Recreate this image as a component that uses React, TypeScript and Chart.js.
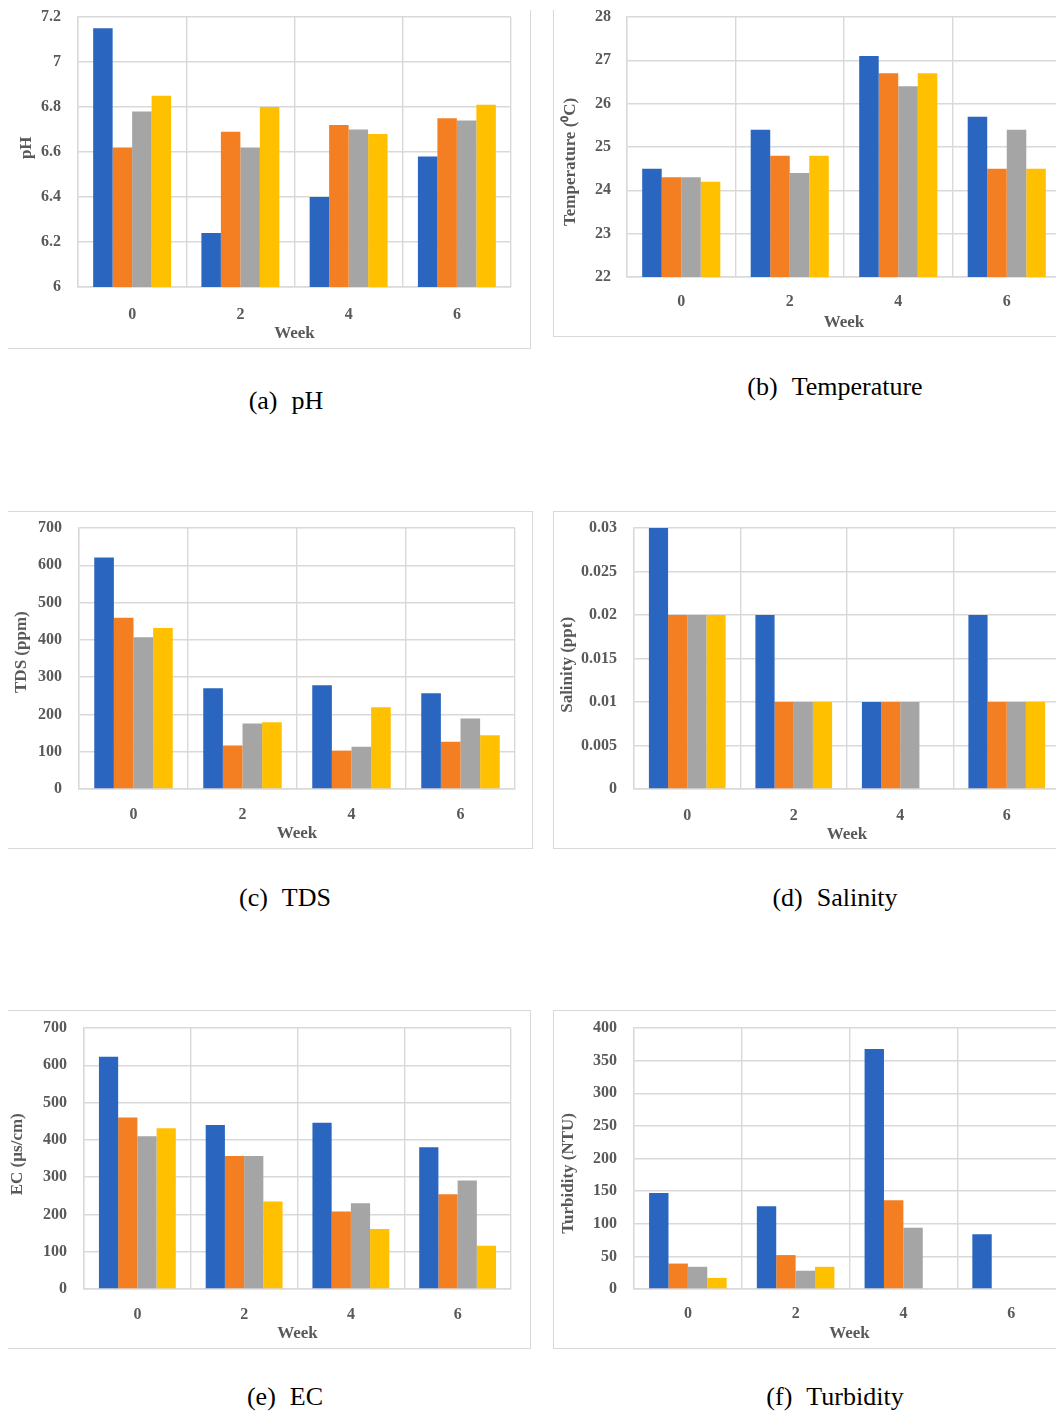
import React, { useEffect, useRef } from 'react';
import { Chart, registerables } from 'chart.js';

Chart.register(...registerables);

// ---------- data ----------
const weeks = ['0', '2', '4', '6'];
const seriesColors = ['#2A66BF', '#F47F22', '#A5A5A5', '#FFC000'];

const phBlue = [7.15, 6.24, 6.4, 6.58];
const phOrange = [6.62, 6.69, 6.72, 6.75];
const phGray = [6.78, 6.62, 6.7, 6.74];
const phYellow = [6.85, 6.8, 6.68, 6.81];
const phTicks = [6, 6.2, 6.4, 6.6, 6.8, 7, 7.2];
const phTickLabels = ['6', '6.2', '6.4', '6.6', '6.8', '7', '7.2'];

const tempBlue = [24.5, 25.4, 27.1, 25.7];
const tempOrange = [24.3, 24.8, 26.7, 24.5];
const tempGray = [24.3, 24.4, 26.4, 25.4];
const tempYellow = [24.2, 24.8, 26.7, 24.5];
const tempTicks = [22, 23, 24, 25, 26, 27, 28];
const tempTickLabels = ['22', '23', '24', '25', '26', '27', '28'];

const tdsBlue = [621, 270, 278, 257];
const tdsOrange = [459, 117, 103, 127];
const tdsGray = [407, 176, 113, 189];
const tdsYellow = [432, 179, 219, 144];
const tdsTicks = [0, 100, 200, 300, 400, 500, 600, 700];
const tdsTickLabels = ['0', '100', '200', '300', '400', '500', '600', '700'];

const salBlue = [0.03, 0.02, 0.01, 0.02];
const salOrange = [0.02, 0.01, 0.01, 0.01];
const salGray = [0.02, 0.01, 0.01, 0.01];
const salYellow = [0.02, 0.01, null, 0.01];
const salTicks = [0, 0.005, 0.01, 0.015, 0.02, 0.025, 0.03];
const salTickLabels = ['0', '0.005', '0.01', '0.015', '0.02', '0.025', '0.03'];

const ecBlue = [623, 440, 446, 380];
const ecOrange = [460, 357, 208, 254];
const ecGray = [410, 357, 230, 291];
const ecYellow = [431, 235, 161, 116];
const ecTicks = [0, 100, 200, 300, 400, 500, 600, 700];
const ecTickLabels = ['0', '100', '200', '300', '400', '500', '600', '700'];

const turbBlue = [147, 127, 368, 84];
const turbOrange = [39, 52, 136, null];
const turbGray = [34, 28, 94, null];
const turbYellow = [17, 34, null, null];
const turbTicks = [0, 50, 100, 150, 200, 250, 300, 350, 400];
const turbTickLabels = ['0', '50', '100', '150', '200', '250', '300', '350', '400'];

// ---------- layout ----------
type Box = { left: number; top: number; right: number; bottom: number };
type Cfg = {
  series: (number | null)[][];
  ticks: number[];
  tickLabels: string[];
  yTitle: string;
  yTitleShift: number; // + moves title down, - moves it up (in spaces)
  plot: Box;
  tickRight: number;
  yTitleX: number;
  xLabelY: number;
  weekY: number;
};

const FONT = 'Liberation Serif';
const TEXT = '#595959';
const GRID = '#D9D9D9';
const TICK_SIZE = 16;
const TITLE_SIZE = 17;
const TEXT_SHIFT = 1.5;

function shiftedTitle(t: string, n: number) {
  if (n > 0) return t + ' '.repeat(n);
  if (n < 0) return ' '.repeat(-n) + t;
  return t;
}

function BarChart({ cfg }: { cfg: Cfg }) {
  const ref = useRef<HTMLCanvasElement | null>(null);
  const titleHalf = (TITLE_SIZE * 1.2) / 2;
  const tickHalf = (TICK_SIZE * 1.2) / 2;
  const padTop = 14;
  const padRight = 10;
  const canvasLeft = Math.round(cfg.yTitleX - titleHalf);
  const canvasTop = cfg.plot.top - padTop;
  const canvasBottom = Math.round(cfg.weekY + TEXT_SHIFT + titleHalf);
  const width = cfg.plot.right + padRight - canvasLeft;
  const height = canvasBottom - canvasTop;
  const yAxisWidth = cfg.plot.left - canvasLeft;
  const xAxisHeight = canvasBottom - cfg.plot.bottom;
  const yTickGap = cfg.plot.left - cfg.tickRight;
  const xTickPad = cfg.xLabelY + TEXT_SHIFT - cfg.plot.bottom - tickHalf;

  useEffect(() => {
    if (!ref.current) return;
    const chart = new Chart(ref.current, {
      type: 'bar',
      data: {
        labels: weeks,
        datasets: cfg.series.map((s, i) => ({
          data: s,
          backgroundColor: seriesColors[i],
          borderWidth: 0,
          barPercentage: 1,
          categoryPercentage: 0.72,
        })),
      },
      options: {
        animation: false,
        responsive: false,
        devicePixelRatio: 1,
        layout: { autoPadding: false, padding: { left: 0, top: padTop, right: padRight, bottom: 0 } },
        plugins: { legend: { display: false }, tooltip: { enabled: false } },
        scales: {
          x: {
            grid: { color: GRID, lineWidth: 1.4, drawTicks: false, offset: true },
            border: { color: GRID, width: 1.4 },
            ticks: {
              padding: xTickPad,
              color: TEXT,
              font: { family: FONT, size: TICK_SIZE, weight: 'bold', lineHeight: 1.2 },
              maxRotation: 0,
            },
            title: {
              display: true,
              text: 'Week',
              color: TEXT,
              padding: 0,
              font: { family: FONT, size: TITLE_SIZE, weight: 'bold', lineHeight: 1.2 },
            },
            afterFit: (s: any) => {
              s.height = xAxisHeight;
            },
          },
          y: {
            min: cfg.ticks[0],
            max: cfg.ticks[cfg.ticks.length - 1],
            grid: {
              color: GRID,
              lineWidth: 1.4,
              drawTicks: true,
              tickLength: yTickGap,
              tickColor: 'rgba(0,0,0,0)',
            },
            border: { color: GRID, width: 1.4 },
            afterBuildTicks: (s: any) => {
              s.ticks = cfg.ticks.map((v) => ({ value: v }));
            },
            ticks: {
              autoSkip: false,
              padding: 0,
              color: TEXT,
              font: { family: FONT, size: TICK_SIZE, weight: 'bold', lineHeight: 1.2 },
              callback: (_v: any, i: number) => cfg.tickLabels[i],
            },
            title: {
              display: true,
              text: shiftedTitle(cfg.yTitle, cfg.yTitleShift),
              color: TEXT,
              padding: 0,
              font: { family: FONT, size: TITLE_SIZE, weight: 'bold', lineHeight: 1.2 },
            },
            afterFit: (s: any) => {
              s.width = yAxisWidth;
            },
          },
        },
      },
    } as any);
    return () => chart.destroy();
  }, []);

  return (
    <canvas
      ref={ref}
      width={width}
      height={height}
      style={{ position: 'absolute', left: canvasLeft, top: canvasTop, width, height }}
    />
  );
}

type FrameSides = { t?: boolean; r?: boolean; b?: boolean; l?: boolean };
function Frame({ box, sides }: { box: Box; sides: FrameSides }) {
  const line = `1.5px solid ${GRID}`;
  return (
    <div
      style={{
        position: 'absolute',
        left: box.left,
        top: box.top,
        width: box.right - box.left,
        height: box.bottom - box.top,
        boxSizing: 'border-box',
        borderTop: sides.t ? line : 'none',
        borderRight: sides.r ? line : 'none',
        borderBottom: sides.b ? line : 'none',
        borderLeft: sides.l ? line : 'none',
      }}
    />
  );
}

function Caption({ x, y, tag, name }: { x: number; y: number; tag: string; name: string }) {
  return (
    <div
      style={{
        position: 'absolute',
        left: x - 200,
        width: 400,
        top: y - 16,
        height: 32,
        lineHeight: '32px',
        textAlign: 'center',
        fontFamily: "'Liberation Serif', 'Times New Roman', serif",
        fontSize: 26,
        color: '#000',
        whiteSpace: 'nowrap',
      }}
    >
      <span>{tag}</span>
      <span style={{ marginLeft: 14 }}>{name}</span>
    </div>
  );
}

const charts: Cfg[] = [
  {
    series: [phBlue, phOrange, phGray, phYellow],
    ticks: phTicks,
    tickLabels: phTickLabels,
    yTitle: 'pH',
    yTitleShift: -2,
    plot: { left: 78, top: 17, right: 511, bottom: 287 },
    tickRight: 61,
    yTitleX: 26,
    xLabelY: 313,
    weekY: 332,
  },
  {
    series: [tempBlue, tempOrange, tempGray, tempYellow],
    ticks: tempTicks,
    tickLabels: tempTickLabels,
    yTitle: 'Temperature (\u2070C)',
    yTitleShift: 7,
    plot: { left: 627, top: 17, right: 1061, bottom: 277 },
    tickRight: 611,
    yTitleX: 570,
    xLabelY: 300,
    weekY: 321,
  },
  {
    series: [tdsBlue, tdsOrange, tdsGray, tdsYellow],
    ticks: tdsTicks,
    tickLabels: tdsTickLabels,
    yTitle: 'TDS (ppm)',
    yTitleShift: -3,
    plot: { left: 79, top: 528, right: 515, bottom: 789 },
    tickRight: 62,
    yTitleX: 21,
    xLabelY: 813,
    weekY: 832,
  },
  {
    series: [salBlue, salOrange, salGray, salYellow],
    ticks: salTicks,
    tickLabels: salTickLabels,
    yTitle: 'Salinity (ppt)',
    yTitleShift: 3,
    plot: { left: 634, top: 528, right: 1060, bottom: 789 },
    tickRight: 617,
    yTitleX: 567,
    xLabelY: 814,
    weekY: 833,
  },
  {
    series: [ecBlue, ecOrange, ecGray, ecYellow],
    ticks: ecTicks,
    tickLabels: ecTickLabels,
    yTitle: 'EC (\u00b5s/cm)',
    yTitleShift: -2,
    plot: { left: 84, top: 1028, right: 511, bottom: 1289 },
    tickRight: 67,
    yTitleX: 17,
    xLabelY: 1313,
    weekY: 1332,
  },
  {
    series: [turbBlue, turbOrange, turbGray, turbYellow],
    ticks: turbTicks,
    tickLabels: turbTickLabels,
    yTitle: 'Turbidity (NTU)',
    yTitleShift: 7,
    plot: { left: 634, top: 1028, right: 1065, bottom: 1289 },
    tickRight: 617,
    yTitleX: 568,
    xLabelY: 1312,
    weekY: 1332,
  },
];

export default function App() {
  return (
    <div
      style={{
        position: 'absolute',
        left: 0,
        top: 0,
        width: 1056,
        height: 1412,
        overflow: 'hidden',
        background: '#fff',
      }}
    >
      <Frame box={{ left: 8, top: 10, right: 531, bottom: 349 }} sides={{ r: true, b: true }} />
      <Frame box={{ left: 553, top: 10, right: 1070, bottom: 337 }} sides={{ l: true, b: true }} />
      <Frame box={{ left: 8, top: 511, right: 533, bottom: 849 }} sides={{ t: true, r: true, b: true }} />
      <Frame box={{ left: 553, top: 511, right: 1070, bottom: 849 }} sides={{ t: true, l: true, b: true }} />
      <Frame box={{ left: 8, top: 1010, right: 531, bottom: 1349 }} sides={{ t: true, r: true, b: true }} />
      <Frame box={{ left: 553, top: 1010, right: 1070, bottom: 1349 }} sides={{ t: true, l: true, b: true }} />

      {charts.map((c, i) => (
        <BarChart key={i} cfg={c} />
      ))}

      <Caption x={286} y={401} tag="(a)" name="pH" />
      <Caption x={835} y={387} tag="(b)" name="Temperature" />
      <Caption x={285} y={898} tag="(c)" name="TDS" />
      <Caption x={835} y={898} tag="(d)" name="Salinity" />
      <Caption x={285} y={1397} tag="(e)" name="EC" />
      <Caption x={835} y={1397} tag="(f)" name="Turbidity" />
    </div>
  );
}
